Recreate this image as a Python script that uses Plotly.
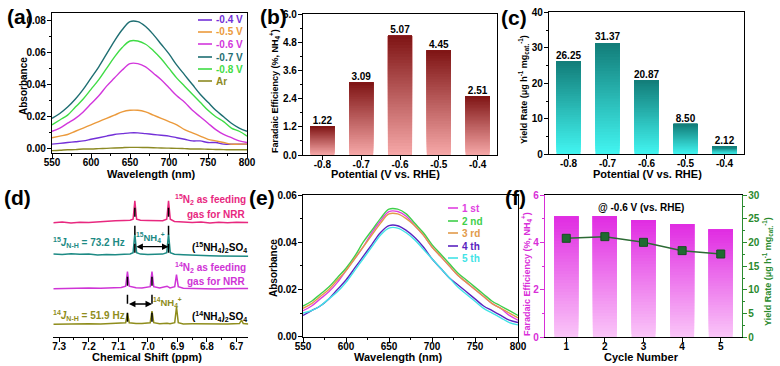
import plotly.graph_objects as go

# ---------------- DATA ----------------
wl = [550, 560, 570, 580, 590, 600, 610, 620, 630, 640, 650, 660, 670,
      680, 690, 700, 710, 720, 730, 740, 750, 760, 770, 780, 790, 800]

a_labels = ["-0.4 V", "-0.5 V", "-0.6 V", "-0.7 V", "-0.8 V", "Ar"]
a_m04 = [.003, .0035, .004, .0045, .005, .006, .007, .008, .009, .0095, .010, .010, .0095,
         .009, .0085, .008, .007, .006, .005, .005, .004, .004, .003, .003, .003, .003]
a_m05 = [.007, .008, .009, .011, .013, .015, .017, .019, .021, .023, .024, .024, .023,
         .021, .019, .017, .015, .012, .010, .008, .006, .005, .004, .003, .003, .003]
a_m06 = [.011, .013, .016, .019, .023, .028, .033, .039, .044, .049, .053, .053, .051,
         .047, .043, .038, .033, .029, .024, .020, .016, .012, .009, .007, .005, .004]
a_m07 = [.019, .022, .026, .031, .037, .044, .051, .059, .067, .074, .079, .079, .076,
         .071, .065, .059, .052, .046, .040, .034, .029, .024, .020, .016, .013, .011]
a_m08 = [.015, .018, .021, .026, .031, .037, .043, .050, .057, .063, .067, .067, .065,
         .061, .056, .050, .044, .039, .034, .029, .024, .020, .017, .013, .011, .008]
a_ar = [-.001, -.0008, -.0005, -.0004, 0.0, 0.0, .0002, .0004, .0006, .0008, .001, .001, .0009,
        .0008, .0006, .0005, .0004, .0002, 0.0, 0.0, -.0002, -.0003, -.0004, -.0005, -.0005, -.0005]

potentials = ["-0.8", "-0.7", "-0.6", "-0.5", "-0.4"]
fe_values = [1.22, 3.09, 5.07, 4.45, 2.51]
yield_values = [26.25, 31.37, 20.87, 8.50, 2.12]

ppm_ticks = [7.3, 7.2, 7.1, 7.0, 6.9, 6.8, 6.7]
peaks15 = [7.044, 6.930]
peaks14 = [7.069, 6.986]
d1_ppm = [7.32, 7.29, 7.26, 7.23, 7.20, 7.17, 7.14, 7.11, 7.08, 7.060, 7.050, 7.044, 7.038, 7.025,
          7.00, 6.975, 6.950, 6.936, 6.930, 6.924, 6.91, 6.88, 6.85, 6.82, 6.79, 6.76, 6.73, 6.70, 6.66]
d1_int = [0.0, 0.6, -0.4, 0.5, 0.2, 1.0, 1.4, 2.0, 2.2, 2.4, 3.5, 22.0, 3.5, 2.4,
          2.2, 1.8, 1.9, 3.5, 22.0, 3.5, 1.2, 0.8, 0.3, 0.6, -0.2, 0.4, 0.0, 0.5, 0.1]
d2_ppm = d1_ppm
d2_int = [0.8, 0.2, 1.0, 0.4, 0.6, -0.2, 0.3, 0.0, 0.5, 0.8, 2.0, 21.0, 2.0, 0.6,
          0.2, 0.4, 0.6, 2.0, 21.0, 2.0, 0.5, 0.0, -0.5, -0.8, -1.0, -1.2, -1.4, -1.5, -1.6]
d3_ppm = [7.32, 7.28, 7.24, 7.20, 7.16, 7.12, 7.09, 7.075, 7.069, 7.063, 7.04, 7.02, 6.992, 6.986,
          6.980, 6.96, 6.935, 6.925, 6.909, 6.903, 6.897, 6.88, 6.85, 6.81, 6.77, 6.73, 6.69, 6.66]
d3_int = [0.0, 0.4, 0.2, 0.8, 0.5, 1.0, 1.2, 2.5, 17.0, 2.5, 1.0, 0.8, 2.0, 17.0,
          2.0, 0.6, 2.5, 0.8, 2.0, 14.0, 2.0, 0.4, 0.2, 0.5, -0.2, 0.3, 0.0, 0.2]
d4_ppm = [7.32, 7.28, 7.24, 7.20, 7.16, 7.12, 7.09, 7.075, 7.069, 7.063, 7.04, 7.02, 6.992, 6.986,
          6.980, 6.96, 6.935, 6.925, 6.909, 6.903, 6.897, 6.88, 6.85, 6.81, 6.77, 6.73, 6.69, 6.683,
          6.677, 6.66]
d4_int = [0.0, 0.3, 0.0, 0.5, 0.3, 0.6, 0.8, 1.5, 11.0, 1.5, 0.8, 0.6, 1.5, 13.0,
          1.5, 0.4, 1.0, 0.5, 1.5, 17.0, 1.5, 0.3, 0.4, 0.2, 0.5, 0.2, 0.6, 4.0, 0.6, 0.3]

e_labels = ["1 st", "2 nd", "3 rd", "4 th", "5 th"]
e_1 = [.011, .013, .016, .019, .023, .028, .033, .038, .044, .049, .053, .053, .051,
       .047, .043, .038, .034, .030, .026, .023, .020, .017, .014, .012, .009, .007]
e_2 = [.013, .015, .018, .021, .025, .029, .034, .040, .045, .050, .054, .054, .052,
       .048, .044, .039, .035, .031, .027, .024, .021, .018, .015, .013, .011, .009]
e_3 = [.012, .014, .017, .020, .024, .028, .033, .038, .043, .048, .052, .052, .050,
       .047, .043, .038, .034, .030, .026, .023, .020, .017, .014, .012, .010, .008]
e_4 = [.009, .011, .013, .016, .020, .024, .029, .034, .039, .044, .047, .047, .045,
       .042, .038, .033, .029, .025, .022, .019, .016, .013, .011, .009, .007, .006]
e_5 = [.010, .011, .013, .016, .019, .023, .028, .033, .038, .043, .046, .046, .044,
       .041, .037, .033, .029, .025, .021, .018, .015, .012, .010, .008, .006, .005]

cycles = [1, 2, 3, 4, 5]
cycle_fe = [5.09, 5.11, 4.95, 4.78, 4.55]
cycle_yield = [20.87, 21.22, 20.02, 18.27, 17.56]

# ---------------- STYLE ----------------
W, H = 780, 366
FONT = "Liberation Sans, Arial, sans-serif"


def X(px):
    return px / W


def Y(py):
    return 1 - py / H


a_colors = ["#7330d8", "#eb9a3c", "#d236dc", "#1e6e72", "#3fdc45", "#8c8a24"]
e_colors = ["#e040e0", "#3fcf4a", "#e29a4a", "#5a24c0", "#42e3e6"]
nmr_colors = ["#e8287f", "#1d8a84", "#cf34d6", "#8f8d1c"]
nmr_offsets = [114, 82, 48, 12.5]
FE_COL = "#d82ed8"
YR_COL = "#2a8a2e"

fig = go.Figure()


def hex2rgb(h):
    h = h.lstrip("#")
    return [int(h[i:i + 2], 16) for i in (0, 2, 4)]


def mix(c1, c2, t):
    a, b = hex2rgb(c1), hex2rgb(c2)
    return "rgb(%d,%d,%d)" % tuple(round(a[i] + (b[i] - a[i]) * t) for i in range(3))


def gradient_bars(xs, vals, c_bottom, c_top, xa, ya, width=0.62, n=40):
    for k in range(n):
        frac = k / n
        base = [v * frac for v in vals]
        hgt = [v - b for v, b in zip(vals, base)]
        fig.add_trace(go.Bar(x=xs, y=hgt, base=base, width=width,
                             marker=dict(color=mix(c_bottom, c_top, (k + 0.5) / n), line=dict(width=0)),
                             xaxis=xa, yaxis=ya, showlegend=False, hoverinfo="skip"))


# (a) spectra
for vals, col in zip([a_m04, a_m05, a_m06, a_m07, a_m08, a_ar], a_colors):
    fig.add_trace(go.Scatter(x=wl, y=vals, mode="lines", line=dict(color=col, width=1.4, shape="spline"),
                             xaxis="x", yaxis="y", showlegend=False))

# (b) FE bars
pos = list(range(len(potentials)))
gradient_bars(pos, fe_values, "#f7a8a8", "#7e1414", "x2", "y2")
fig.add_trace(go.Scatter(x=pos, y=fe_values, mode="text", text=["%.2f" % v for v in fe_values],
                         textposition="top center", textfont=dict(family=FONT, size=10, color="black", weight="bold"),
                         xaxis="x2", yaxis="y2", showlegend=False))

# (c) yield bars
gradient_bars(pos, yield_values, "#42f6f2", "#127c78", "x3", "y3")
fig.add_trace(go.Scatter(x=pos, y=yield_values, mode="text", text=["%.2f" % v for v in yield_values],
                         textposition="top center", textfont=dict(family=FONT, size=10, color="black", weight="bold"),
                         xaxis="x3", yaxis="y3", showlegend=False))

# (d) NMR
for pp, it, col, off in zip([d1_ppm, d2_ppm, d3_ppm, d4_ppm], [d1_int, d2_int, d3_int, d4_int],
                            nmr_colors, nmr_offsets):
    fig.add_trace(go.Scatter(x=pp, y=[v + off for v in it], mode="lines", line=dict(color=col, width=1.5),
                             xaxis="x4", yaxis="y4", showlegend=False))

# (e) cycle spectra
for vals, col in zip([e_1, e_2, e_3, e_4, e_5], e_colors):
    fig.add_trace(go.Scatter(x=wl, y=vals, mode="lines", line=dict(color=col, width=1.4, shape="spline"),
                             xaxis="x5", yaxis="y5", showlegend=False))

# (f) cycle bars + yield line
gradient_bars(cycles, cycle_fe, "#fac6f8", "#e02ce2", "x6", "y6")
fig.add_trace(go.Scatter(x=cycles, y=cycle_yield, mode="lines+markers",
                         line=dict(color="#2c6a34", width=1.5),
                         marker=dict(symbol="square", size=8, color="#1f6a30", line=dict(color="#184d22", width=1)),
                         xaxis="x6", yaxis="y7", showlegend=False))

tickfont = dict(family=FONT, size=10, color="black", weight="bold")


def ax(domain, anchor, mirror=True, color="black", standoff=-1, **kw):
    d = dict(domain=domain, anchor=anchor, showline=True, linecolor=color, linewidth=1.3, mirror=mirror,
             ticks="outside", ticklen=4, tickwidth=1.2, tickcolor=color, showgrid=False, zeroline=False,
             tickfont=dict(tickfont, color=color), automargin=False, ticklabelstandoff=standoff)
    d.update(kw)
    return d


def xax(domain, anchor, **kw):
    return ax(domain, anchor, standoff=-4, **kw)


def minor(dt, col="black"):
    return dict(dtick=dt, ticks="outside", ticklen=2, tickwidth=1, tickcolor=col, showgrid=False)


layout = dict(
    width=W, height=H, margin=dict(l=0, r=0, t=0, b=0), paper_bgcolor="white", plot_bgcolor="rgba(0,0,0,0)",
    barmode="overlay", font=dict(family=FONT, color="black"), showlegend=False,
    # (a)
    xaxis=xax([X(52), X(247)], "y", range=[550, 800], dtick=50, tick0=550, minor=minor(25)),
    yaxis=ax([Y(153), Y(13)], "x", range=[-0.0025, 0.0844], dtick=0.02, tick0=0, tickformat=".2f", minor=minor(0.01)),
    # (b)
    xaxis2=xax([X(303), X(497)], "y2", range=[-0.5, 4.5], tickvals=pos, ticktext=potentials),
    yaxis2=ax([Y(155), Y(14)], "x2", range=[0, 6], tickvals=[0, 1.2, 2.4, 3.6, 4.8, 6.0],
              ticktext=["0.0", "1.2", "2.4", "3.6", "4.8", "6.0"], minor=minor(0.6)),
    # (c)
    xaxis3=xax([X(549), X(744)], "y3", range=[-0.5, 4.5], tickvals=pos, ticktext=potentials),
    yaxis3=ax([Y(154.3), Y(12.3)], "x3", range=[0, 40], dtick=10, minor=minor(5)),
    # (d)
    xaxis4=xax([X(53.3), X(248.3)], "y4", mirror=False, range=[7.32, 6.66], tickvals=ppm_ticks,
               ticktext=["%.1f" % t for t in ppm_ticks], minor=minor(0.05)),
    yaxis4=dict(domain=[Y(336.7), Y(185)], anchor="x4", range=[0, 151.7], visible=False),
    # (e)
    xaxis5=xax([X(303), X(518)], "y5", range=[550, 800], dtick=50, tick0=550, minor=minor(25)),
    yaxis5=ax([Y(336.7), Y(195)], "x5", range=[0, 0.06], dtick=0.02, tickformat=".2f", minor=minor(0.01)),
    # (f)
    xaxis6=xax([X(545), X(742)], "y6", range=[0.45, 5.55], tickvals=cycles),
    yaxis6=ax([Y(337.3), Y(195)], "x6", mirror=False, color=FE_COL, range=[0, 6], dtick=2, minor=minor(1, FE_COL)),
    yaxis7=ax([Y(337.3), Y(195)], "x6", mirror=False, color=YR_COL, range=[0, 30], dtick=5,
              overlaying="y6", side="right", minor=minor(2.5, YR_COL)),
)
fig.update_layout(**layout)

ann = []


def txt(x, y, t, size=10, color="black", angle=0, xanchor="center", **kw):
    ann.append(dict(x=X(x), y=Y(y), xref="paper", yref="paper", text=t, showarrow=False, textangle=angle,
                    xanchor=xanchor, yanchor="middle",
                    font=dict(family=FONT, size=size, color=color, weight="bold"), **kw))


# panel labels (right edges as in the reference)
for lab, x, y in [("(a)", 35, 16), ("(b)", 289, 16), ("(c)", 529, 17),
                  ("(d)", 33, 197), ("(e)", 277, 197), ("(f)", 528, 197)]:
    txt(x, y, lab, size=21, xanchor="right")

# axis titles
txt(151, 174, "Wavelength (nm)", 11)
txt(23, 86, "Absorbance", 10, angle=-90)
txt(385, 174, "Potential (V vs. RHE)", 11)
txt(275, 91, "Faradaic Efficiency (%, NH<sub>4</sub><sup>+</sup>)", 9, angle=-90)
txt(647, 174, "Potential (V vs. RHE)", 11)
txt(523, 90, "Yield Rate (μg h<sup>-1</sup> mg<sub>cat.</sub><sup>-1</sup>)", 9, angle=-90)
txt(147, 357, "Chemical Shift (ppm)", 11)
txt(399, 357, "Wavelength (nm)", 11)
txt(273, 268, "Absorbance", 10, angle=-90)
txt(641, 357, "Cycle Number", 11)
txt(526, 274, "Faradaic Efficiency (%, NH<sub>4</sub><sup>+</sup>)", 9, color=FE_COL, angle=-90)
txt(767, 272, "Yield Rate (μg h<sup>-1</sup> mg<sub>cat.</sub><sup>-1</sup>)", 9, color=YR_COL, angle=-90)
txt(641, 207, "@ -0.6 V (vs. RHE)", 10)

# legend (a)
shapes = []
for lab, col, ry in zip(a_labels, a_colors, [20, 32, 44, 57, 69, 81]):
    shapes.append(dict(type="line", xref="paper", yref="paper", x0=X(198), x1=X(212), y0=Y(ry), y1=Y(ry),
                       line=dict(color=col, width=1.6)))
    txt(214, ry, lab, 10, color=col, xanchor="left")
# legend (e)
for lab, col, ry in zip(e_labels, e_colors, [208, 221, 233, 246, 258]):
    shapes.append(dict(type="line", xref="paper", yref="paper", x0=X(448), x1=X(458), y0=Y(ry), y1=Y(ry),
                       line=dict(color=col, width=1.6)))
    txt(460, ry, lab, 10, color=col, xanchor="left")

# (d) annotations
txt(248, 199, "<sup>15</sup>N<sub>2</sub> as feeding", 10, color=nmr_colors[0], xanchor="right")
txt(248, 214, "gas for NRR", 10, color=nmr_colors[0], xanchor="right")
txt(89, 243, "<sup>15</sup><i>J</i><sub>N-H</sub> = 73.2 Hz", 10, color=nmr_colors[1])
txt(150, 238, "<sup>15</sup>NH<sub>4</sub><sup>+</sup>", 9.5, color=nmr_colors[1])
txt(219, 247, "(<sup>15</sup>NH<sub>4</sub>)<sub>2</sub>SO<sub>4</sub>", 10)
txt(248, 267, "<sup>14</sup>N<sub>2</sub> as feeding", 10, color=nmr_colors[2], xanchor="right")
txt(248, 281, "gas for NRR", 10, color=nmr_colors[2], xanchor="right")
txt(89, 315, "<sup>14</sup><i>J</i><sub>N-H</sub> = 51.9 Hz", 10, color=nmr_colors[3])
txt(167, 302, "<sup>14</sup>NH<sub>4</sub><sup>+</sup>", 9.5, color=nmr_colors[3])
txt(219, 316, "(<sup>14</sup>NH<sub>4</sub>)<sub>2</sub>SO<sub>4</sub>", 10)

for p in peaks15:
    shapes.append(dict(type="line", xref="x4", yref="y4", x0=p, x1=p, y0=84, y1=137,
                       line=dict(color="black", width=1.5, dash="dash")))
for p in peaks14:
    shapes.append(dict(type="line", xref="x4", yref="y4", x0=p, x1=p, y0=15, y1=64,
                       line=dict(color="black", width=1.5, dash="dash")))
for (p0, p1), yy in [(peaks15, 90), (peaks14, 32.7)]:
    ann.append(dict(x=p1, y=yy, ax=p0, ay=yy, xref="x4", yref="y4", axref="x4", ayref="y4", text="",
                    showarrow=True, arrowhead=2, startarrowhead=2, arrowside="end+start",
                    arrowwidth=1.3, arrowsize=1, arrowcolor="black", standoff=0, startstandoff=0))

fig.update_layout(annotations=ann, shapes=shapes)
fig.write_html("out.html", config={"displayModeBar": False},
               post_script="document.body.style.margin='0';")
